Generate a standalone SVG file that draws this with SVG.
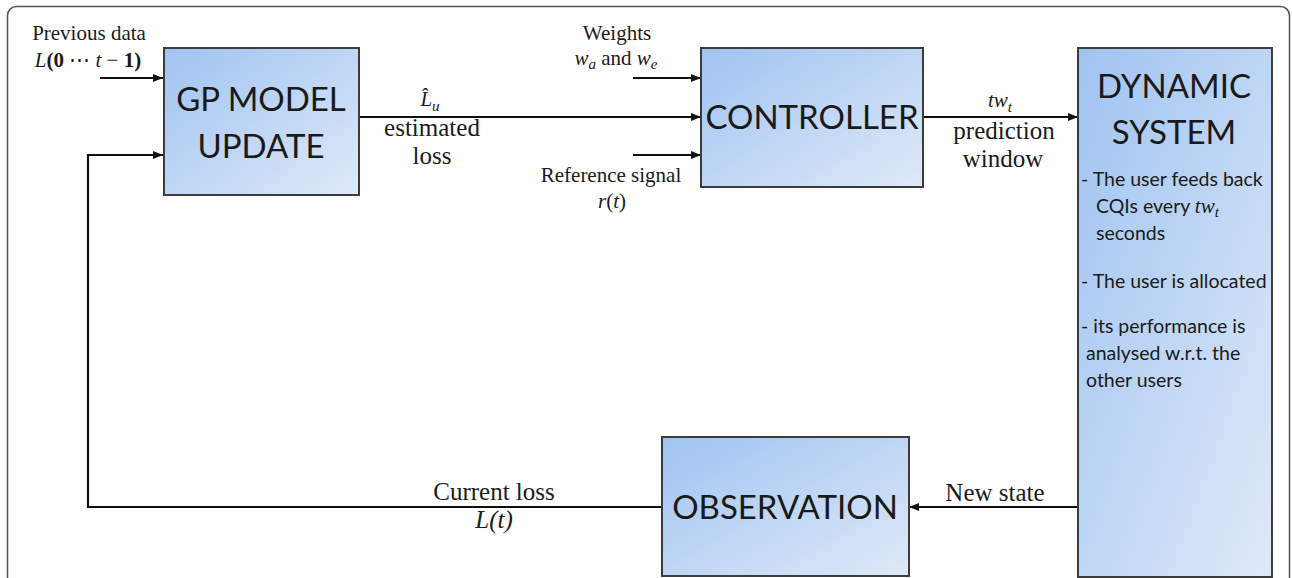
<svg xmlns="http://www.w3.org/2000/svg" width="1292" height="578" viewBox="0 0 1292 578">
  <defs>
    <linearGradient id="boxFill" x1="0" y1="0" x2="1" y2="1">
      <stop offset="0" stop-color="#9fc3f1"/>
      <stop offset="1" stop-color="#dfe9f8"/>
    </linearGradient>
    <marker id="arrow" viewBox="0 0 10 8" refX="10" refY="4" markerWidth="10" markerHeight="8" markerUnits="userSpaceOnUse" orient="auto">
      <path d="M0,0 L10,4 L0,8 z" fill="#111"/>
    </marker>
    <style>
      .box { fill: url(#boxFill); stroke: #3c3c3c; stroke-width: 2; }
      .title { font-family: Lato, "Open Sans", sans-serif; font-size: 33px; fill: #1a1a1a; text-anchor: middle; }
      .note { font-family: Lato, "Open Sans", sans-serif; font-size: 19.5px; fill: #1a1a1a; }
      .lbl { font-family: "Liberation Serif", serif; font-size: 21px; fill: #1a1a1a; text-anchor: middle; }
      .big { font-size: 25px; }
      .math { font-family: "Liberation Serif", serif; font-style: italic; }
      .sub { font-size: 15px; }
      .wire { fill: none; stroke: #111; stroke-width: 2.2; }
    </style>
  </defs>

  <!-- outer frame -->
  <rect x="7.5" y="6.5" width="1282" height="590" rx="9" ry="9" fill="#fff" stroke="#555" stroke-width="1.5"/>

  <!-- connectors -->
  <g id="connectors">
    <line class="wire" x1="100" y1="78" x2="163" y2="78" marker-end="url(#arrow)"/>
    <polyline class="wire" points="662,507 88,507 88,155 163,155" marker-end="url(#arrow)"/>
    <line class="wire" x1="359" y1="117" x2="701" y2="117" marker-end="url(#arrow)"/>
    <line class="wire" x1="633" y1="78" x2="701" y2="78" marker-end="url(#arrow)"/>
    <line class="wire" x1="633" y1="155" x2="701" y2="155" marker-end="url(#arrow)"/>
    <line class="wire" x1="923" y1="117" x2="1078" y2="117" marker-end="url(#arrow)"/>
    <line class="wire" x1="1078" y1="507" x2="909" y2="507" marker-end="url(#arrow)"/>

    <!-- connector labels -->
    <text class="lbl" x="89" y="40">Previous data</text>
    <text class="lbl" x="88" y="67" font-size="23"><tspan class="math">L</tspan><tspan font-weight="bold">(0</tspan> ⋯ <tspan class="math">t</tspan> − <tspan font-weight="bold">1)</tspan></text>

    <text class="lbl" x="430" y="106" font-size="26"><tspan class="math">L̂</tspan><tspan class="math sub" dy="5" font-size="17">u</tspan></text>
    <text class="lbl big" x="432" y="136">estimated</text>
    <text class="lbl big" x="432" y="164">loss</text>

    <text class="lbl" x="617" y="40">Weights</text>
    <text class="lbl" x="616" y="65" font-size="22"><tspan class="math">w</tspan><tspan class="math sub" dy="4">a</tspan><tspan dy="-4"> and </tspan><tspan class="math">w</tspan><tspan class="math sub" dy="4">e</tspan></text>

    <text class="lbl" x="611" y="182">Reference signal</text>
    <text class="lbl" x="612" y="208" font-size="23"><tspan class="math">r</tspan>(<tspan class="math">t</tspan>)</text>

    <text class="lbl" x="1000" y="107" font-size="26"><tspan class="math">tw</tspan><tspan class="math sub" dy="5" font-size="17">t</tspan></text>
    <text class="lbl big" x="1004" y="139">prediction</text>
    <text class="lbl big" x="1003" y="167">window</text>

    <text class="lbl big" x="494" y="500">Current loss</text>
    <text class="lbl big math" x="494" y="528">L(t)</text>

    <text class="lbl big" x="995" y="501">New state</text>
  </g>

  <g id="gp-model-update">
    <rect class="box" x="164" y="48" width="195" height="147"/>
    <text class="title" x="261" y="111" font-size="34">GP MODEL</text>
    <text class="title" x="261" y="158" font-size="34">UPDATE</text>
  </g>

  <g id="controller">
    <rect class="box" x="701" y="48" width="222" height="139"/>
    <text class="title" x="812" y="129" font-size="30.5">CONTROLLER</text>
  </g>

  <g id="dynamic-system">
    <rect class="box" x="1078" y="48" width="194" height="529"/>
    <text class="title" x="1174" y="98" font-size="32">DYNAMIC</text>
    <text class="title" x="1174" y="144" font-size="32">SYSTEM</text>
    <text class="note" x="1081" y="186">- The user feeds back</text>
    <text class="note" x="1096" y="213">CQIs every <tspan class="math" font-size="21">tw</tspan><tspan class="math sub" dy="4">t</tspan></text>
    <text class="note" x="1096" y="240">seconds</text>
    <text class="note" x="1081" y="288">- The user is allocated</text>
    <text class="note" x="1081" y="333">- its performance is</text>
    <text class="note" x="1086" y="360">analysed w.r.t. the</text>
    <text class="note" x="1086" y="387">other users</text>
  </g>

  <g id="observation">
    <rect class="box" x="662" y="437" width="247" height="139"/>
    <text class="title" x="785" y="519" font-size="30.5">OBSERVATION</text>
  </g>
</svg>
